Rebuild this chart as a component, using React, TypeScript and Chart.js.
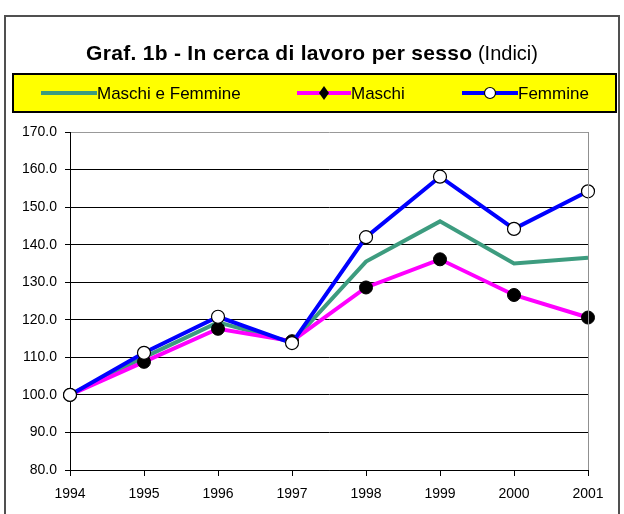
import React, { useEffect, useRef } from "react";
import { Chart, registerables } from "chart.js";

Chart.register(...registerables);

const years = ["1994", "1995", "1996", "1997", "1998", "1999", "2000", "2001"];
const maschiFemmine = [100, 110.0, 119.3, 114.0, 135.5, 146.2, 135.0, 136.5];
const maschi = [100, 108.8, 117.6, 114.3, 128.6, 136.1, 126.6, 120.6];
const femmine = [100, 111.2, 120.8, 113.8, 142.0, 158.1, 144.2, 154.2];

const titleBold = "Graf. 1b - In cerca di lavoro per sesso";
const titleNormal = "(Indici)";
const legendLabels = ["Maschi e Femmine", "Maschi", "Femmine"];
const yMin = 80;
const yMax = 170;
const yStep = 10;

const GREEN = "#3d9c7f";
const MAGENTA = "#ff00ff";
const BLUE = "#0000ff";
const FONT = '"Liberation Sans", Arial, sans-serif';

const framePlugin = {
  id: "frameDeco",
  beforeDraw(chart: any) {
    const ctx = chart.ctx;
    ctx.save();
    ctx.fillStyle = "#ffffff";
    ctx.fillRect(0, 0, chart.width, chart.height);
    // outer frame
    ctx.strokeStyle = "#505050";
    ctx.lineWidth = 2;
    ctx.strokeRect(5, 16, 614, 520);
    // title
    ctx.fillStyle = "#000";
    ctx.textBaseline = "alphabetic";
    ctx.font = "bold 21px " + FONT;
    try { (ctx as any).letterSpacing = "0.3px"; } catch (e) {}
    const bw = ctx.measureText(titleBold).width;
    try { (ctx as any).letterSpacing = "0px"; } catch (e) {}
    ctx.font = "20px " + FONT;
    const sw = ctx.measureText(" ").width;
    const nw = ctx.measureText(titleNormal).width;
    const total = bw + sw + nw;
    let x = 312 - total / 2;
    ctx.font = "bold 21px " + FONT;
    try { (ctx as any).letterSpacing = "0.3px"; } catch (e) {}
    ctx.textAlign = "left";
    ctx.fillText(titleBold, x, 60);
    try { (ctx as any).letterSpacing = "0px"; } catch (e) {}
    ctx.font = "20px " + FONT;
    ctx.fillText(titleNormal, x + bw + sw, 60);
    // legend box
    ctx.fillStyle = "#ffff00";
    ctx.fillRect(13, 74, 603, 38);
    ctx.strokeStyle = "#000";
    ctx.lineWidth = 2;
    ctx.strokeRect(13, 74, 603, 38);
    const cy = 93;
    const items = [
      { x1: 41, x2: 97, color: GREEN, marker: "none", label: legendLabels[0] },
      { x1: 297, x2: 351, color: MAGENTA, marker: "diamond", label: legendLabels[1] },
      { x1: 462, x2: 518, color: BLUE, marker: "circle", label: legendLabels[2] },
    ];
    items.forEach((it) => {
      ctx.strokeStyle = it.color;
      ctx.lineWidth = 4;
      ctx.beginPath();
      ctx.moveTo(it.x1, cy);
      ctx.lineTo(it.x2, cy);
      ctx.stroke();
      const mx = (it.x1 + it.x2) / 2;
      if (it.marker === "diamond") {
        ctx.fillStyle = "#000";
        ctx.beginPath();
        ctx.moveTo(mx, cy - 7);
        ctx.lineTo(mx + 5, cy);
        ctx.lineTo(mx, cy + 7);
        ctx.lineTo(mx - 5, cy);
        ctx.closePath();
        ctx.fill();
      } else if (it.marker === "circle") {
        ctx.fillStyle = "#fff";
        ctx.strokeStyle = "#000";
        ctx.lineWidth = 1.2;
        ctx.beginPath();
        ctx.arc(mx, cy, 5.5, 0, Math.PI * 2);
        ctx.fill();
        ctx.stroke();
      }
      ctx.fillStyle = "#000";
      ctx.font = "17px " + FONT;
      ctx.textBaseline = "middle";
      ctx.fillText(it.label, it.x2, cy + 1);
    });
    ctx.restore();
  },
  afterDatasetsDraw(chart: any) {
    const { ctx, chartArea } = chart;
    ctx.save();
    ctx.strokeStyle = "#909090";
    ctx.lineWidth = 1;
    ctx.beginPath();
    ctx.moveTo(Math.round(chartArea.right) + 0.5, chartArea.top);
    ctx.lineTo(Math.round(chartArea.right) + 0.5, chartArea.bottom);
    ctx.stroke();
    ctx.restore();
  },
};

export default function App() {
  const ref = useRef<HTMLCanvasElement | null>(null);
  useEffect(() => {
    if (!ref.current) return;
    const chart = new Chart(ref.current, {
      type: "line",
      data: {
        labels: years,
        datasets: [
          {
            label: legendLabels[0],
            data: maschiFemmine,
            borderColor: GREEN,
            backgroundColor: GREEN,
            borderWidth: 4,
            pointRadius: 0,
            tension: 0,
            order: 2,
          },
          {
            label: legendLabels[1],
            data: maschi,
            borderColor: MAGENTA,
            backgroundColor: "#000",
            borderWidth: 4,
            pointRadius: 6.5,
            pointBackgroundColor: "#000",
            pointBorderColor: "#000",
            pointBorderWidth: 1,
            tension: 0,
            order: 1,
          },
          {
            label: legendLabels[2],
            data: femmine,
            borderColor: BLUE,
            backgroundColor: "#fff",
            borderWidth: 4,
            pointRadius: 6.5,
            pointBackgroundColor: "#fff",
            pointBorderColor: "#000",
            pointBorderWidth: 1.2,
            tension: 0,
            order: 0,
          },
        ],
      },
      options: {
        animation: false,
        responsive: false,
        maintainAspectRatio: false,
        events: [],
        layout: { padding: { left: 0, right: 36, top: 132, bottom: 0 } },
        plugins: {
          legend: { display: false },
          title: { display: false },
          tooltip: { enabled: false },
        },
        scales: {
          x: {
            offset: false,
            grid: {
              drawOnChartArea: false,
              drawTicks: true,
              tickLength: 6,
              tickColor: "#000",
              tickWidth: 1,
            },
            border: { color: "#000", width: 1 },
            ticks: {
              color: "#000",
              font: { family: FONT, size: 14 },
              padding: 10,
              maxRotation: 0,
              autoSkip: false,
            },
            afterFit: (scale: any) => {
              scale.height = 44;
            },
          },
          y: {
            min: yMin,
            max: yMax,
            grid: {
              color: (c: any) => (c.tick && c.tick.value === yMax ? "#999999" : "#000000"),
              lineWidth: 1,
              tickLength: 5,
              tickColor: "#000",
              drawTicks: true,
            },
            border: { color: "#000", width: 1 },
            ticks: {
              stepSize: yStep,
              color: "#000",
              font: { family: FONT, size: 14 },
              padding: 8,
              callback: (v: any) => Number(v).toFixed(1),
            },
            afterFit: (scale: any) => {
              scale.width = 70;
            },
          },
        },
      },
      plugins: [framePlugin],
    });
    return () => chart.destroy();
  }, []);
  return (
    <div style={{ position: "absolute", left: 0, top: 0, width: 624, height: 514 }}>
      <canvas ref={ref} width={624} height={514} style={{ display: "block" }} />
    </div>
  );
}
